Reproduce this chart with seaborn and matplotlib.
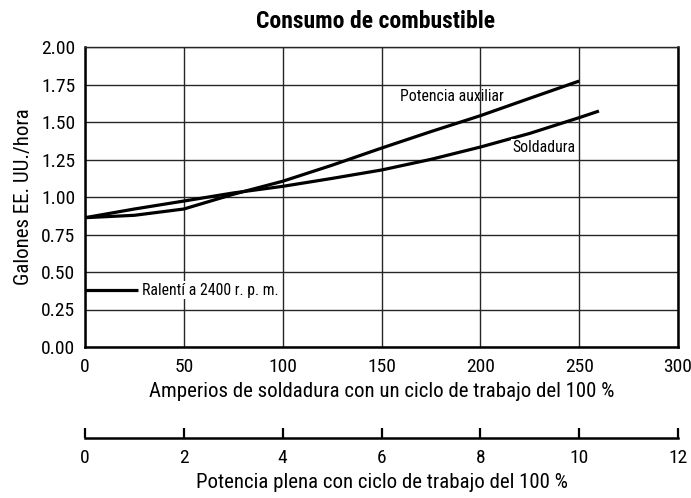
import matplotlib
matplotlib.use("Agg")
import matplotlib.pyplot as plt
import seaborn as sns
import pandas as pd

# ---- data ----
amps_aux = [0, 25, 50, 75, 100, 125, 150, 175, 200, 225, 250]
gal_aux = [0.862, 0.878, 0.92, 1.018, 1.105, 1.212, 1.326, 1.436, 1.542, 1.658, 1.773]

amps_weld = [0, 25, 50, 75, 100, 125, 150, 175, 200, 225, 250, 260]
gal_weld = [0.862, 0.92, 0.973, 1.027, 1.071, 1.124, 1.18, 1.251, 1.333, 1.424, 1.529, 1.573]

amps_idle = [0, 27]
gal_idle = [0.38, 0.38]

x_ticks = [0, 50, 100, 150, 200, 250, 300]
y_ticks = [0.0, 0.25, 0.5, 0.75, 1.0, 1.25, 1.5, 1.75, 2.0]
kw_ticks = [0, 2, 4, 6, 8, 10, 12]

title = "Consumo de combustible"
xlabel = "Amperios de soldadura con un ciclo de trabajo del 100 %"
ylabel = "Galones EE. UU./hora"
x2label = "Potencia plena con ciclo de trabajo del 100 %"

df = pd.concat([
    pd.DataFrame({"amps": amps_aux, "gal": gal_aux, "serie": "Potencia auxiliar"}),
    pd.DataFrame({"amps": amps_weld, "gal": gal_weld, "serie": "Soldadura"}),
    pd.DataFrame({"amps": amps_idle, "gal": gal_idle, "serie": "Ralentí"}),
], ignore_index=True)

sns.set_theme(style="white")
FAM = ["Roboto Condensed", "Liberation Sans Narrow", "Archivo Narrow", "DejaVu Sans"]
plt.rcParams["font.family"] = FAM
plt.rcParams["lines.solid_joinstyle"] = "round"
plt.rcParams["lines.solid_capstyle"] = "butt"

fig = plt.figure(figsize=(6.91, 4.98), dpi=100)
ax = fig.add_axes([85 / 691, 1 - 347 / 498, 593 / 691, 300 / 498])

sns.lineplot(data=df, x="amps", y="gal", hue="serie",
             palette={"Potencia auxiliar": "black", "Soldadura": "black", "Ralentí": "black"},
             linewidth=2.3, sort=False, estimator=None, legend=False, ax=ax, zorder=3)

ax.set_xlim(0, 300)
ax.set_ylim(0, 2.0)
ax.set_xticks(x_ticks)
ax.set_yticks(y_ticks)
ax.set_xticklabels([str(t) for t in x_ticks])
ax.set_yticklabels([f"{t:.2f}" for t in y_ticks])
ax.grid(True, color="#262626", linewidth=1.0)
ax.tick_params(axis="x", length=0, labelsize=14, colors="black", pad=8)
ax.tick_params(axis="y", length=0, labelsize=14, colors="black", pad=7)
for s in ["left", "bottom", "right"]:
    ax.spines[s].set_linewidth(1.8)
    ax.spines[s].set_color("black")
ax.spines["top"].set_linewidth(1.0)
ax.spines["top"].set_color("#262626")

ax.set_xlabel(xlabel, fontsize=15, color="black", labelpad=4)
ax.set_ylabel(ylabel, fontsize=15, color="black", labelpad=6)
ax.set_title(title, fontsize=17, fontweight="bold", color="black", pad=14, x=0.49)

ax.text(185.6, 1.667, "Potencia auxiliar", fontsize=11.3, ha="center", va="center", color="black")
ax.text(232, 1.327, "Soldadura", fontsize=11.3, ha="center", va="center", color="black",
        bbox=dict(facecolor="white", edgecolor="none", pad=1))
ax.text(29, 0.38, "Ralentí a 2400 r. p. m.", fontsize=11.3, ha="left", va="center", color="black",
        bbox=dict(facecolor="white", edgecolor="none", pad=1), zorder=4)

sec = ax.secondary_xaxis(-0.303, functions=(lambda a: a / 25.0, lambda p: p * 25.0))
sec.set_xticks(kw_ticks)
sec.set_xticklabels([str(t) for t in kw_ticks])
sec.tick_params(direction="in", length=7, width=1.6, labelsize=14, colors="black", pad=8)
sec.spines["bottom"].set_linewidth(1.8)
sec.spines["bottom"].set_color("black")
sec.set_xlabel(x2label, fontsize=15, color="black", labelpad=4)

fig.savefig("out.png", dpi=100)
